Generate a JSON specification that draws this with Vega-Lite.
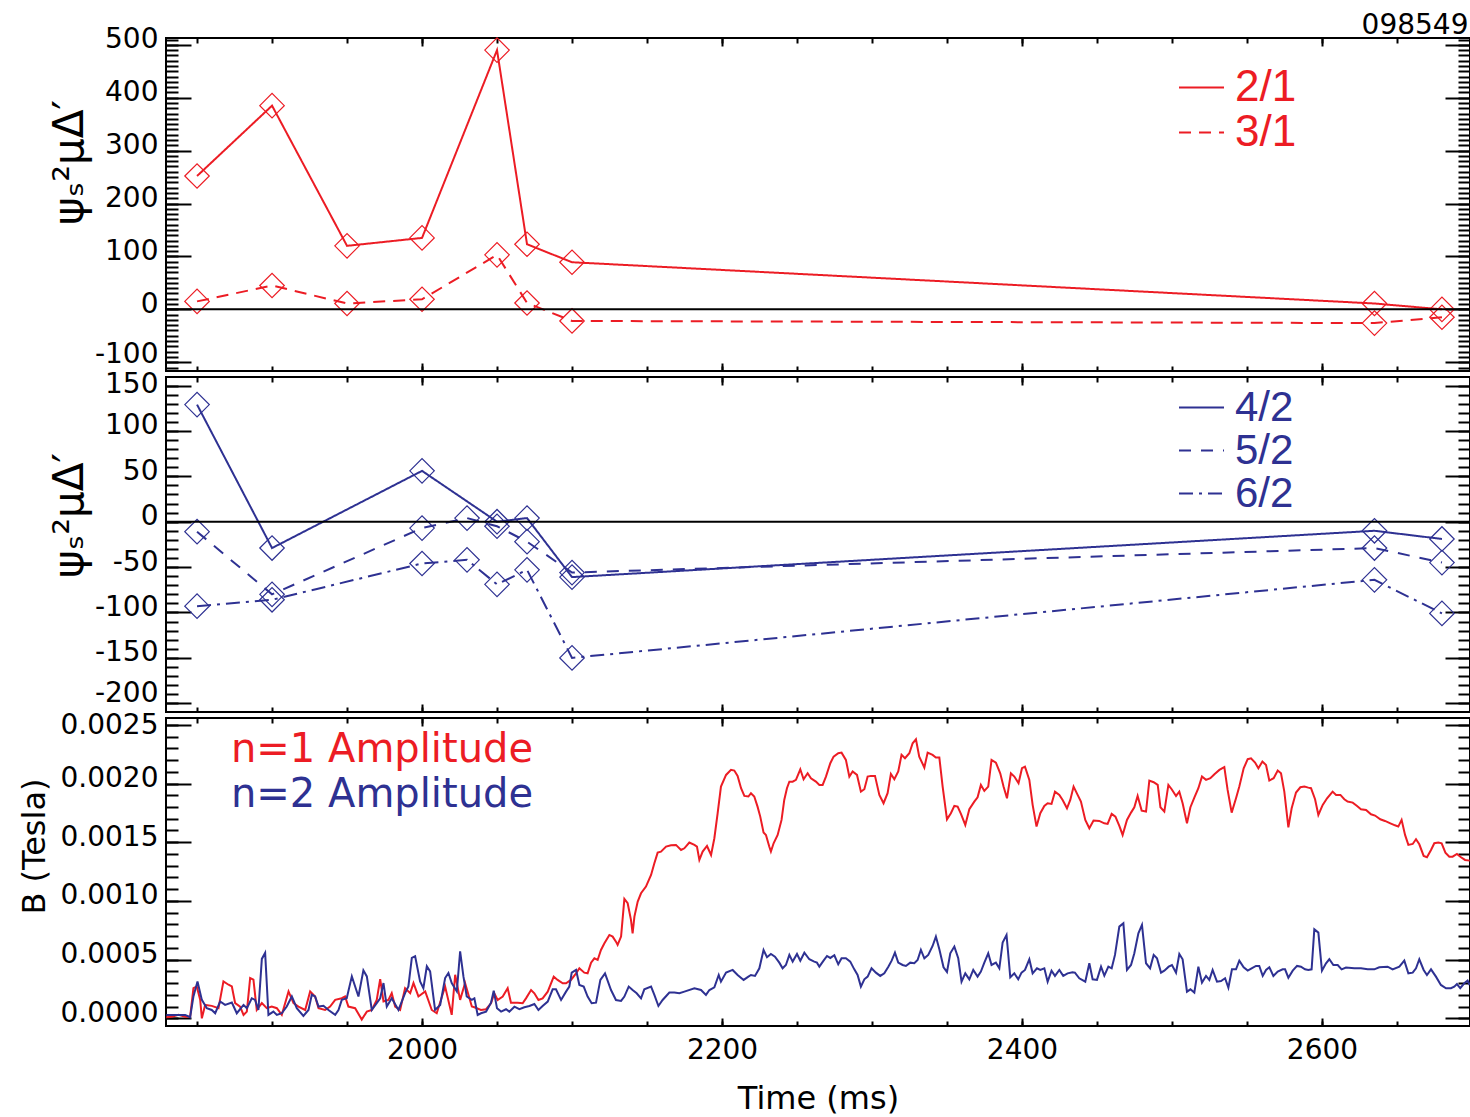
{
"$schema": "https://vega.github.io/schema/vega-lite/v6.json",
"background": "white",
"padding": {"left": 17, "top": 10, "right": 0, "bottom": 0},
"config": {
 "view": {"stroke": "#000", "strokeWidth": 2},
 "axis": {"labelFont": "DejaVu Sans", "labelFontSize": 28, "labelColor": "#000", "tickColor": "#000", "tickWidth": 2, "domain": false, "grid": false, "titleFont": "DejaVu Sans", "titleColor": "#000", "titleFontWeight": "normal", "labelOverlap": false, "labelFlush": false, "labelBound": false, "minExtent": 0},
 "legend": {"orient": "none", "padding": 0, "title": null}
},
"datasets": {
 "top": [
  {"t":1850,"mode":"2/1","v":252},{"t":1900,"mode":"2/1","v":385},{"t":1950,"mode":"2/1","v":120},{"t":2000,"mode":"2/1","v":135},{"t":2050,"mode":"2/1","v":490},{"t":2070,"mode":"2/1","v":123},{"t":2100,"mode":"2/1","v":89},{"t":2635,"mode":"2/1","v":11},{"t":2680,"mode":"2/1","v":0},
  {"t":1850,"mode":"3/1","v":15},{"t":1900,"mode":"3/1","v":45},{"t":1950,"mode":"3/1","v":11},{"t":2000,"mode":"3/1","v":19},{"t":2050,"mode":"3/1","v":103},{"t":2070,"mode":"3/1","v":12},{"t":2100,"mode":"3/1","v":-22},{"t":2635,"mode":"3/1","v":-26},{"t":2680,"mode":"3/1","v":-15}
 ],
 "mid": [
  {"t":1850,"mode":"4/2","v":129},{"t":1900,"mode":"4/2","v":-29},{"t":2000,"mode":"4/2","v":56},{"t":2050,"mode":"4/2","v":0},{"t":2070,"mode":"4/2","v":4},{"t":2100,"mode":"4/2","v":-61},{"t":2635,"mode":"4/2","v":-10},{"t":2680,"mode":"4/2","v":-19},
  {"t":1850,"mode":"5/2","v":-11},{"t":1900,"mode":"5/2","v":-80},{"t":2000,"mode":"5/2","v":-7},{"t":2030,"mode":"5/2","v":4},{"t":2050,"mode":"5/2","v":-5},{"t":2070,"mode":"5/2","v":-22},{"t":2100,"mode":"5/2","v":-56},{"t":2635,"mode":"5/2","v":-29},{"t":2680,"mode":"5/2","v":-45},
  {"t":1850,"mode":"6/2","v":-93},{"t":1900,"mode":"6/2","v":-86},{"t":2000,"mode":"6/2","v":-46},{"t":2030,"mode":"6/2","v":-42},{"t":2050,"mode":"6/2","v":-69},{"t":2070,"mode":"6/2","v":-53},{"t":2100,"mode":"6/2","v":-150},{"t":2635,"mode":"6/2","v":-64},{"t":2680,"mode":"6/2","v":-101}
 ],
 "zero": [{"y": 0}],
 "n1": [
  {"t":1829.5,"B":0.000009},{"t":1833.2,"B":0.000014},{"t":1837.6,"B":0.000029},{"t":1842.1,"B":0.000014},{"t":1845.4,"B":0.000014},{"t":1847.6,"B":0.000257},{"t":1849.8,"B":0.000271},{"t":1852.1,"B":0.000157},{"t":1853.2,"B":0.0},{"t":1855.4,"B":0.000114},{"t":1859.8,"B":0.000106},{"t":1864.3,"B":0.000086},{"t":1867.6,"B":0.000314},{"t":1871.0,"B":0.000286},{"t":1873.2,"B":0.000271},{"t":1875.4,"B":0.000129},{"t":1878.7,"B":0.0001},{"t":1881.0,"B":0.000029},{"t":1883.2,"B":0.000057},{"t":1885.4,"B":0.000343},{"t":1887.6,"B":0.000329},{"t":1889.8,"B":0.000071},{"t":1893.2,"B":0.000129},{"t":1896.5,"B":0.000086},{"t":1899.8,"B":0.0001},{"t":1903.2,"B":0.000086},{"t":1906.5,"B":0.000029},{"t":1911.0,"B":0.000229},{"t":1914.3,"B":0.000129},{"t":1917.6,"B":0.0001},{"t":1922.1,"B":0.000071},{"t":1925.4,"B":0.000229},{"t":1928.7,"B":0.000186},{"t":1931.0,"B":0.000086},{"t":1935.4,"B":0.000071},{"t":1938.7,"B":0.0001},{"t":1942.1,"B":0.000157},{"t":1946.5,"B":0.000171},{"t":1948.7,"B":0.000186},{"t":1950.9,"B":0.0001},{"t":1955.4,"B":0.000086},{"t":1959.8,"B":-0.00001},{"t":1963.2,"B":0.000057},{"t":1966.5,"B":0.000071},{"t":1969.8,"B":0.000157},{"t":1972.1,"B":0.000334},{"t":1974.3,"B":0.000143},{"t":1977.6,"B":0.000157},{"t":1979.8,"B":0.000214},{"t":1982.1,"B":0.0001},{"t":1985.4,"B":0.000071},{"t":1988.7,"B":0.000257},{"t":1992.1,"B":0.000214},{"t":1994.3,"B":0.0003},{"t":1997.6,"B":0.000186},{"t":2002.1,"B":0.000229},{"t":2006.5,"B":0.000071},{"t":2009.8,"B":0.000043},{"t":2015.4,"B":0.000271},{"t":2019.8,"B":0.000029},{"t":2022.1,"B":0.000371},{"t":2025.4,"B":0.000157},{"t":2028.7,"B":0.0003},{"t":2033.2,"B":0.0001},
  {"t":2034.9,"B":0.000094},{"t":2039.3,"B":0.000071},{"t":2042.7,"B":0.000077},{"t":2046.0,"B":0.000128},{"t":2048.2,"B":0.000213},{"t":2050.4,"B":0.000156},{"t":2053.8,"B":0.000185},{"t":2057.1,"B":0.000256},{"t":2059.3,"B":0.000133},{"t":2063.8,"B":0.000133},{"t":2067.1,"B":0.000128},{"t":2069.3,"B":0.00017},{"t":2072.7,"B":0.000241},{"t":2074.9,"B":0.000213},{"t":2077.6,"B":0.000156},{"t":2080.4,"B":0.00017},{"t":2083.8,"B":0.000227},{"t":2087.8,"B":0.000355},{"t":2090.4,"B":0.000327},{"t":2093.8,"B":0.000298},{"t":2096.0,"B":0.000298},{"t":2099.3,"B":0.000327},{"t":2102.7,"B":0.000383},{"t":2104.9,"B":0.000426},{"t":2108.2,"B":0.000389},{"t":2110.4,"B":0.000383},{"t":2112.7,"B":0.000474},{"t":2114.9,"B":0.000511},{"t":2117.1,"B":0.000497},{"t":2119.3,"B":0.000582},{"t":2121.6,"B":0.000639},{"t":2124.9,"B":0.00071},{"t":2127.1,"B":0.000696},{"t":2129.3,"B":0.000653},{"t":2130.4,"B":0.000625},{"t":2132.7,"B":0.000696},{"t":2134.9,"B":0.001017},{"t":2137.1,"B":0.00098},{"t":2139.3,"B":0.000838},{"t":2140.4,"B":0.000724},{"t":2141.6,"B":0.000866},{"t":2143.8,"B":0.000994},{"t":2146.0,"B":0.001065},{"t":2149.3,"B":0.001122},{"t":2152.7,"B":0.001221},{"t":2154.9,"B":0.001321},{"t":2157.1,"B":0.001411},{"t":2159.3,"B":0.00142},{"t":2162.7,"B":0.001463},{"t":2166.0,"B":0.001474},{"t":2169.3,"B":0.001477},{"t":2172.7,"B":0.001434},{"t":2174.9,"B":0.001448},{"t":2178.2,"B":0.001497},{"t":2181.6,"B":0.001477},{"t":2183.3,"B":0.001463},{"t":2184.9,"B":0.001349},{"t":2187.1,"B":0.00142},{"t":2190.0,"B":0.001468},{"t":2192.7,"B":0.001392},{"t":2194.9,"B":0.001534},{"t":2197.1,"B":0.001747},{"t":2199.3,"B":0.001974},{"t":2202.7,"B":0.002073},{"t":2206.0,"B":0.002116},{"t":2208.2,"B":0.00211},{"t":2210.4,"B":0.002065},{"t":2212.7,"B":0.00196},{"t":2214.9,"B":0.001894},{"t":2217.6,"B":0.001889},
  {"t":2219.3,"B":0.001917},{"t":2221.5,"B":0.001889},{"t":2223.7,"B":0.001803},{"t":2225.5,"B":0.001718},{"t":2227.7,"B":0.001582},{"t":2229.3,"B":0.001562},{"t":2231.5,"B":0.001463},{"t":2232.6,"B":0.00142},{"t":2234.4,"B":0.001491},{"t":2237.1,"B":0.001562},{"t":2239.7,"B":0.00169},{"t":2241.5,"B":0.00186},{"t":2243.3,"B":0.00196},{"t":2244.9,"B":0.002016},{"t":2247.1,"B":0.002016},{"t":2249.3,"B":0.002031},{"t":2252.2,"B":0.002121},{"t":2254.4,"B":0.002036},{"t":2257.1,"B":0.002087},{"t":2259.3,"B":0.002045},{"t":2262.6,"B":0.002016},{"t":2264.9,"B":0.001988},{"t":2267.1,"B":0.001988},{"t":2269.3,"B":0.002059},{"t":2272.2,"B":0.002173},{"t":2274.4,"B":0.002229},{"t":2277.5,"B":0.002258},{"t":2279.7,"B":0.002263},{"t":2282.6,"B":0.002201},{"t":2284.9,"B":0.002059},{"t":2287.1,"B":0.002102},{"t":2290.0,"B":0.002073},{"t":2292.6,"B":0.001931},{"t":2294.9,"B":0.001951},{"t":2297.1,"B":0.002059},{"t":2299.3,"B":0.002065},{"t":2302.0,"B":0.002065},{"t":2304.9,"B":0.001903},{"t":2307.7,"B":0.001832},{"t":2310.4,"B":0.001917},{"t":2312.6,"B":0.002082},{"t":2314.9,"B":0.002036},{"t":2317.5,"B":0.002102},{"t":2319.7,"B":0.002244},{"t":2322.0,"B":0.002215},{"t":2324.9,"B":0.002258},{"t":2327.1,"B":0.002343},{"t":2329.3,"B":0.002377},{"t":2331.5,"B":0.002229},{"t":2334.9,"B":0.002136},{"t":2337.1,"B":0.002263},{"t":2340.4,"B":0.002244},{"t":2342.6,"B":0.002221},{"t":2344.9,"B":0.002221},{"t":2347.1,"B":0.001974},{"t":2350.0,"B":0.001695},{"t":2352.6,"B":0.001747},{"t":2354.9,"B":0.001809},{"t":2357.1,"B":0.001803},{"t":2359.3,"B":0.001741},{"t":2362.2,"B":0.001647},{"t":2364.9,"B":0.001781},{"t":2368.2,"B":0.001846},{"t":2370.4,"B":0.001883},{"t":2372.6,"B":0.001988},{"t":2374.9,"B":0.001937},{"t":2377.5,"B":0.001974},{"t":2379.7,"B":0.002201},{"t":2382.6,"B":0.002178},{"t":2385.5,"B":0.002087},{"t":2387.7,"B":0.001974},{"t":2390.0,"B":0.001874},{"t":2392.6,"B":0.002087},{"t":2394.9,"B":0.002059},{"t":2397.7,"B":0.002002},{"t":2400.0,"B":0.00213},{"t":2402.0,"B":0.002144},{"t":2404.9,"B":0.002031},{"t":2407.1,"B":0.001818},{"t":2409.7,"B":0.001633},{"t":2412.2,"B":0.001747},{"t":2414.9,"B":0.001809},{"t":2417.1,"B":0.001832},{"t":2419.7,"B":0.001826},{"t":2422.0,"B":0.001931},{"t":2424.9,"B":0.001903},{"t":2427.1,"B":0.00186},{"t":2430.0,"B":0.001789},{"t":2432.2,"B":0.00186},{"t":2434.4,"B":0.001974},{"t":2437.1,"B":0.001903},{"t":2439.3,"B":0.001846},{"t":2442.2,"B":0.00169},{"t":2444.9,"B":0.001619},{"t":2447.7,"B":0.001684},{"t":2451.5,"B":0.001681},
  {"t":2454.9,"B":0.001661},{"t":2457.1,"B":0.001656},{"t":2459.8,"B":0.001741},{"t":2462.3,"B":0.001718},{"t":2464.9,"B":0.001639},{"t":2467.1,"B":0.001562},{"t":2470.0,"B":0.00169},{"t":2472.7,"B":0.001752},{"t":2474.9,"B":0.001798},{"t":2477.1,"B":0.001894},{"t":2479.8,"B":0.001769},{"t":2482.7,"B":0.001761},{"t":2484.9,"B":0.002025},{"t":2487.8,"B":0.002011},{"t":2490.5,"B":0.001988},{"t":2492.3,"B":0.001798},{"t":2494.9,"B":0.001761},{"t":2497.6,"B":0.001988},{"t":2499.8,"B":0.001951},{"t":2502.7,"B":0.001894},{"t":2504.9,"B":0.001931},{"t":2507.1,"B":0.001832},{"t":2510.0,"B":0.001661},{"t":2512.3,"B":0.001798},{"t":2514.9,"B":0.00188},{"t":2517.6,"B":0.00196},{"t":2520.0,"B":0.002059},{"t":2522.7,"B":0.002031},{"t":2525.6,"B":0.002045},{"t":2528.3,"B":0.002079},{"t":2531.6,"B":0.002116},{"t":2534.9,"B":0.002139},{"t":2537.1,"B":0.001945},{"t":2539.8,"B":0.001752},{"t":2542.7,"B":0.001874},{"t":2544.9,"B":0.001974},{"t":2547.8,"B":0.00213},{"t":2550.5,"B":0.002207},{"t":2552.7,"B":0.002215},{"t":2555.4,"B":0.002178},{"t":2557.6,"B":0.00213},{"t":2560.3,"B":0.002187},{"t":2562.7,"B":0.002158},{"t":2564.9,"B":0.002025},{"t":2567.8,"B":0.002045},{"t":2570.5,"B":0.00211},{"t":2572.7,"B":0.002087},{"t":2574.9,"B":0.001931},{"t":2577.6,"B":0.001627},{"t":2579.8,"B":0.001789},{"t":2582.7,"B":0.001923},{"t":2585.6,"B":0.001968},{"t":2588.3,"B":0.001974},{"t":2590.9,"B":0.001965},{"t":2592.7,"B":0.00196},{"t":2595.4,"B":0.001866},{"t":2597.6,"B":0.001732},{"t":2600.5,"B":0.001818},{"t":2603.4,"B":0.001874},{"t":2607.1,"B":0.001931},{"t":2609.4,"B":0.001903},{"t":2612.3,"B":0.001903},{"t":2614.9,"B":0.001866},{"t":2617.1,"B":0.001846},{"t":2620.5,"B":0.001837},{"t":2623.4,"B":0.001809},{"t":2626.0,"B":0.001781},{"t":2629.4,"B":0.001775},{"t":2632.7,"B":0.001738},{"t":2635.4,"B":0.001727},{"t":2638.9,"B":0.001695},{"t":2642.0,"B":0.001681},{"t":2645.6,"B":0.001661},{"t":2648.7,"B":0.001644},{"t":2650.9,"B":0.001633},{"t":2653.1,"B":0.00169},{"t":2655.4,"B":0.001562},{"t":2657.6,"B":0.001477},{"t":2660.5,"B":0.001485},{"t":2662.7,"B":0.001525},{"t":2664.9,"B":0.001482},{"t":2667.8,"B":0.001383},{"t":2670.0,"B":0.001372},{"t":2672.7,"B":0.001434},{"t":2674.9,"B":0.001491},{"t":2677.6,"B":0.001497},{"t":2679.8,"B":0.001491},{"t":2682.3,"B":0.001411},{"t":2684.9,"B":0.001377},{"t":2687.1,"B":0.001377},{"t":2690.0,"B":0.0014},{"t":2692.7,"B":0.001372},{"t":2695.4,"B":0.001349},{"t":2698.5,"B":0.001343}
 ],
 "n2": [
  {"t":1829.5,"B":0.000029},{"t":1833.2,"B":0.000029},{"t":1837.6,"B":0.000029},{"t":1842.1,"B":0.000029},{"t":1845.4,"B":0.000009},{"t":1847.6,"B":0.000186},{"t":1850.3,"B":0.000314},{"t":1853.2,"B":0.000157},{"t":1856.5,"B":0.000086},{"t":1859.8,"B":0.000071},{"t":1862.1,"B":0.000043},{"t":1865.4,"B":0.000143},{"t":1868.7,"B":0.000114},{"t":1873.2,"B":0.000134},{"t":1876.5,"B":0.000043},{"t":1881.0,"B":0.000114},{"t":1883.2,"B":0.000086},{"t":1886.5,"B":0.000171},{"t":1888.7,"B":0.000157},{"t":1890.9,"B":0.000071},{"t":1893.2,"B":0.000506},{"t":1895.4,"B":0.000557},{"t":1897.6,"B":0.000029},{"t":1900.9,"B":0.000057},{"t":1903.2,"B":0.000029},{"t":1906.5,"B":0.000043},{"t":1909.8,"B":0.0001},{"t":1913.2,"B":0.000186},{"t":1916.5,"B":0.000086},{"t":1920.9,"B":0.00002},{"t":1924.3,"B":0.000071},{"t":1926.5,"B":0.0002},{"t":1928.7,"B":0.000186},{"t":1931.0,"B":0.0001},{"t":1934.3,"B":0.000106},{"t":1937.6,"B":0.000071},{"t":1942.1,"B":0.000029},{"t":1944.3,"B":0.000071},{"t":1946.5,"B":0.000157},{"t":1949.8,"B":0.000171},{"t":1953.2,"B":0.000357},{"t":1957.6,"B":0.000186},{"t":1960.9,"B":0.000409},{"t":1963.2,"B":0.000357},{"t":1966.5,"B":0.000071},{"t":1969.8,"B":0.000129},{"t":1972.1,"B":0.000171},{"t":1974.3,"B":0.0003},{"t":1976.5,"B":0.0001},{"t":1979.8,"B":0.000171},{"t":1984.3,"B":0.000071},{"t":1988.7,"B":0.000214},{"t":1990.9,"B":0.000271},{"t":1993.2,"B":0.000514},{"t":1995.4,"B":0.000529},{"t":1998.7,"B":0.000314},{"t":2000.9,"B":0.000257},{"t":2003.2,"B":0.000443},{"t":2005.4,"B":0.0004},{"t":2008.7,"B":0.000071},{"t":2012.1,"B":0.000114},{"t":2015.4,"B":0.000343},{"t":2017.6,"B":0.000386},{"t":2019.8,"B":0.0003},{"t":2023.2,"B":0.000229},{"t":2025.4,"B":0.000571},{"t":2027.6,"B":0.000357},{"t":2029.8,"B":0.000186},{"t":2033.2,"B":0.000157},
  {"t":2034.9,"B":0.00017},{"t":2037.1,"B":0.000028},{"t":2039.3,"B":0.000043},{"t":2042.7,"B":0.000057},{"t":2046.0,"B":0.000133},{"t":2047.8,"B":0.000236},{"t":2050.0,"B":0.000085},{"t":2052.7,"B":0.000057},{"t":2056.0,"B":0.000077},{"t":2058.2,"B":0.000057},{"t":2061.6,"B":0.000099},{"t":2064.9,"B":0.000077},{"t":2068.2,"B":0.000094},{"t":2071.6,"B":0.000105},{"t":2074.9,"B":0.000122},{"t":2077.6,"B":0.000071},{"t":2080.4,"B":0.000105},{"t":2083.8,"B":0.000142},{"t":2087.1,"B":0.000247},{"t":2089.3,"B":0.000247},{"t":2092.7,"B":0.000156},{"t":2096.0,"B":0.000227},{"t":2098.2,"B":0.00027},{"t":2099.8,"B":0.000389},{"t":2102.7,"B":0.000412},{"t":2104.9,"B":0.000284},{"t":2107.8,"B":0.00027},{"t":2110.4,"B":0.000185},{"t":2113.1,"B":0.000128},{"t":2116.0,"B":0.000133},{"t":2118.9,"B":0.000327},{"t":2122.0,"B":0.000383},{"t":2126.0,"B":0.000241},{"t":2129.3,"B":0.000156},{"t":2132.7,"B":0.000148},{"t":2134.9,"B":0.000185},{"t":2137.8,"B":0.00027},{"t":2140.4,"B":0.000241},{"t":2143.1,"B":0.000213},{"t":2146.0,"B":0.00017},{"t":2148.2,"B":0.000247},{"t":2152.7,"B":0.00027},{"t":2154.9,"B":0.000199},{"t":2157.6,"B":0.000105},{"t":2160.4,"B":0.000156},{"t":2164.9,"B":0.000219},{"t":2168.2,"B":0.000219},{"t":2171.6,"B":0.000213},{"t":2174.9,"B":0.000227},{"t":2181.6,"B":0.000256},{"t":2186.0,"B":0.000241},{"t":2189.3,"B":0.000199},{"t":2191.6,"B":0.000241},{"t":2194.9,"B":0.000264},{"t":2197.8,"B":0.000369},{"t":2199.3,"B":0.000312},{"t":2202.7,"B":0.000389},{"t":2207.1,"B":0.000412},{"t":2210.4,"B":0.000369},{"t":2214.4,"B":0.000327},{"t":2217.6,"B":0.000355},
  {"t":2219.3,"B":0.000369},{"t":2222.0,"B":0.000361},{"t":2224.9,"B":0.000426},{"t":2227.7,"B":0.000582},{"t":2230.0,"B":0.00052},{"t":2232.6,"B":0.000548},{"t":2235.3,"B":0.000525},{"t":2238.2,"B":0.000474},{"t":2240.4,"B":0.000426},{"t":2242.6,"B":0.000454},{"t":2244.9,"B":0.00054},{"t":2247.1,"B":0.000483},{"t":2250.0,"B":0.000548},{"t":2252.2,"B":0.000491},{"t":2254.9,"B":0.000559},{"t":2258.2,"B":0.000503},{"t":2261.5,"B":0.000483},{"t":2263.3,"B":0.000474},{"t":2264.9,"B":0.00044},{"t":2267.7,"B":0.000491},{"t":2270.0,"B":0.000531},{"t":2272.2,"B":0.000514},{"t":2274.9,"B":0.000537},{"t":2277.5,"B":0.00046},{"t":2279.7,"B":0.000511},{"t":2282.6,"B":0.000511},{"t":2285.5,"B":0.000483},{"t":2288.2,"B":0.000417},{"t":2290.4,"B":0.000369},{"t":2292.6,"B":0.00027},{"t":2294.9,"B":0.000332},{"t":2297.1,"B":0.000355},{"t":2299.7,"B":0.000426},{"t":2302.6,"B":0.000389},{"t":2305.5,"B":0.000361},{"t":2308.2,"B":0.000383},{"t":2310.9,"B":0.00044},{"t":2313.1,"B":0.000491},{"t":2315.3,"B":0.000559},{"t":2317.5,"B":0.000474},{"t":2320.4,"B":0.000454},{"t":2322.6,"B":0.000446},{"t":2325.5,"B":0.000474},{"t":2328.2,"B":0.000469},{"t":2330.4,"B":0.000497},{"t":2332.6,"B":0.000582},{"t":2334.9,"B":0.000511},{"t":2337.5,"B":0.00054},{"t":2340.4,"B":0.000616},{"t":2342.6,"B":0.000696},{"t":2344.9,"B":0.000588},{"t":2347.7,"B":0.000435},{"t":2350.0,"B":0.000395},{"t":2352.2,"B":0.000554},{"t":2354.9,"B":0.000611},{"t":2357.5,"B":0.000511},{"t":2359.7,"B":0.000312},{"t":2362.2,"B":0.000383},{"t":2364.9,"B":0.000332},{"t":2367.5,"B":0.000412},{"t":2370.4,"B":0.000355},{"t":2372.6,"B":0.000398},{"t":2374.9,"B":0.000474},{"t":2377.5,"B":0.000554},{"t":2379.7,"B":0.000454},{"t":2382.6,"B":0.000474},{"t":2384.9,"B":0.000426},{"t":2387.1,"B":0.000645},{"t":2389.7,"B":0.00071},{"t":2392.2,"B":0.000349},{"t":2394.9,"B":0.000383},{"t":2397.5,"B":0.000332},{"t":2399.7,"B":0.000389},{"t":2402.0,"B":0.000412},{"t":2404.9,"B":0.000503},{"t":2407.1,"B":0.000383},{"t":2410.0,"B":0.000426},{"t":2412.2,"B":0.000412},{"t":2414.9,"B":0.000426},{"t":2417.1,"B":0.000312},{"t":2419.7,"B":0.000406},{"t":2422.0,"B":0.000361},{"t":2424.9,"B":0.000412},{"t":2427.5,"B":0.000361},{"t":2430.4,"B":0.000383},{"t":2433.7,"B":0.000392},{"t":2435.3,"B":0.000389},{"t":2438.2,"B":0.000341},{"t":2442.2,"B":0.000312},{"t":2444.9,"B":0.000469},{"t":2447.1,"B":0.000332},{"t":2450.0,"B":0.000327},
  {"t":2452.7,"B":0.00044},{"t":2454.9,"B":0.000364},{"t":2457.6,"B":0.00044},{"t":2459.8,"B":0.000426},{"t":2462.0,"B":0.00054},{"t":2464.9,"B":0.000781},{"t":2467.6,"B":0.000809},{"t":2470.0,"B":0.000412},{"t":2472.7,"B":0.000454},{"t":2474.9,"B":0.000554},{"t":2477.6,"B":0.000724},{"t":2480.0,"B":0.000795},{"t":2482.7,"B":0.000469},{"t":2485.4,"B":0.000426},{"t":2487.8,"B":0.00054},{"t":2490.0,"B":0.000511},{"t":2492.7,"B":0.000389},{"t":2494.9,"B":0.000406},{"t":2497.8,"B":0.00044},{"t":2500.0,"B":0.000454},{"t":2502.7,"B":0.000389},{"t":2504.9,"B":0.000548},{"t":2507.1,"B":0.000503},{"t":2510.0,"B":0.000227},{"t":2512.3,"B":0.000247},{"t":2514.9,"B":0.000219},{"t":2517.6,"B":0.00044},{"t":2520.0,"B":0.000304},{"t":2522.7,"B":0.000361},{"t":2524.9,"B":0.000327},{"t":2527.1,"B":0.000412},{"t":2530.0,"B":0.000312},{"t":2532.7,"B":0.000318},{"t":2535.4,"B":0.000341},{"t":2537.6,"B":0.000261},{"t":2540.0,"B":0.000417},{"t":2542.7,"B":0.000417},{"t":2544.9,"B":0.000491},{"t":2547.8,"B":0.000435},{"t":2550.5,"B":0.000406},{"t":2553.1,"B":0.000426},{"t":2556.0,"B":0.000446},{"t":2558.2,"B":0.000446},{"t":2560.5,"B":0.000361},{"t":2562.7,"B":0.000412},{"t":2564.9,"B":0.000435},{"t":2567.6,"B":0.000361},{"t":2570.5,"B":0.000398},{"t":2573.8,"B":0.000417},{"t":2575.4,"B":0.000417},{"t":2577.6,"B":0.000346},{"t":2580.5,"B":0.000406},{"t":2583.4,"B":0.000446},{"t":2586.0,"B":0.00044},{"t":2588.7,"B":0.000417},{"t":2590.9,"B":0.000412},{"t":2593.1,"B":0.000417},{"t":2594.9,"B":0.000758},{"t":2597.6,"B":0.00073},{"t":2600.0,"B":0.000406},{"t":2602.7,"B":0.000469},{"t":2604.9,"B":0.000503},{"t":2607.6,"B":0.000454},{"t":2610.5,"B":0.000454},{"t":2613.1,"B":0.000417},{"t":2616.0,"B":0.000432},{"t":2621.6,"B":0.000426},{"t":2626.0,"B":0.000426},{"t":2630.5,"B":0.000417},{"t":2634.9,"B":0.000417},{"t":2638.2,"B":0.000435},{"t":2643.8,"B":0.00044},{"t":2647.1,"B":0.000417},{"t":2651.6,"B":0.00044},{"t":2654.9,"B":0.000491},{"t":2657.6,"B":0.000383},{"t":2660.5,"B":0.000389},{"t":2662.7,"B":0.000426},{"t":2664.9,"B":0.000503},{"t":2667.8,"B":0.000412},{"t":2670.0,"B":0.000369},{"t":2672.7,"B":0.000417},{"t":2676.0,"B":0.000355},{"t":2679.3,"B":0.000284},{"t":2682.7,"B":0.000256},{"t":2686.0,"B":0.000256},{"t":2688.2,"B":0.00027},{"t":2690.0,"B":0.000292},{"t":2692.2,"B":0.000256},{"t":2694.9,"B":0.000298},{"t":2697.1,"B":0.000321},{"t":2698.5,"B":0.000284}
 ]
},
"vconcat": [
 {
  "width": 1304, "height": 333,
  "layer": [
   {"data": {"name": "top"},
    "mark": {"type": "line", "color": "#ec1c24", "strokeWidth": 2, "clip": true},
    "encoding": {
     "x": {"field": "t", "type": "quantitative", "scale": {"domain": [1829.3, 2698.7], "nice": false, "zero": false},
       "axis": {"orient": "bottom", "values": [2000,2200,2400,2600], "labels": false, "tickSize": -8, "title": null}},
     "y": {"field": "v", "type": "quantitative", "scale": {"domain": [-116.6, 512.9], "nice": false, "zero": false},
       "axis": {"orient": "left", "values": [-100,0,100,200,300,400,500],
         "tickSize": -25, "labelPadding": 33, "labelOffset": {"condition": {"test": "datum.value === -100", "value": -8}, "value": -5}, "labelExpr": "'' + datum.value",
         "title": "ψₛ²μΔ′", "titleFontSize": 42, "titleX": -75, "titleY": 124, "titleAngle": -90, "titleBaseline": "bottom", "titleAlign": "center"}},
     "strokeDash": {"field": "mode", "type": "nominal", "scale": {"domain": ["2/1", "3/1"], "range": [[1, 0], [12, 8]]},
       "legend": {"orient": "none", "legendX": 1012, "legendY": 29, "title": null, "symbolType": "stroke", "symbolSize": 2025, "symbolStrokeWidth": 2, "symbolStrokeColor": "#ec1c24", "labelColor": "#ec1c24", "labelFont": "Liberation Sans", "labelFontSize": 44, "labelOffset": 10, "clipHeight": 41, "rowPadding": 0, "padding": 0}}
    }},
   {"data": {"name": "top"},
    "mark": {"type": "point", "shape": "diamond", "filled": false, "color": "#ec1c24", "size": 600, "strokeWidth": 1.2, "opacity": 1},
    "encoding": {
     "x": {"field": "t", "type": "quantitative", "scale": {"domain": [1829.3, 2698.7], "nice": false, "zero": false},
       "axis": {"orient": "top", "values": [2000,2200,2400,2600], "labels": false, "tickSize": -8,
         "title": "098549", "titleFont": "DejaVu Sans", "titleFontSize": 28, "titleX": 1302, "titleY": -5, "titleAngle": 0, "titleAlign": "right", "titleBaseline": "alphabetic"}},
     "y": {"field": "v", "type": "quantitative", "scale": {"domain": [-116.6, 512.9], "nice": false, "zero": false},
       "axis": {"orient": "right", "values": [-100,0,100,200,300,400,500], "labels": false, "tickSize": -25, "title": null}}
    }},
   {"data": {"name": "top"},
    "mark": {"type": "point", "opacity": 0},
    "encoding": {
     "x": {"field": "t", "type": "quantitative", "scale": {"domain": [1829.3, 2698.7], "nice": false, "zero": false},
       "axis": {"orient": "bottom", "values": [1850,1900,1950,2000,2050,2100,2150,2200,2250,2300,2350,2400,2450,2500,2550,2600,2650], "labels": false, "tickSize": -5, "title": null}},
     "y": {"field": "v", "type": "quantitative", "scale": {"domain": [-116.6, 512.9], "nice": false, "zero": false},
       "axis": {"orient": "left", "values": [-110,-100,-90,-80,-70,-60,-50,-40,-30,-20,-10,0,10,20,30,40,50,60,70,80,90,100,110,120,130,140,150,160,170,180,190,200,210,220,230,240,250,260,270,280,290,300,310,320,330,340,350,360,370,380,390,400,410,420,430,440,450,460,470,480,490,500,510], "labels": false, "tickSize": -12, "title": null}}
    }},
   {"data": {"name": "top"},
    "mark": {"type": "point", "opacity": 0},
    "encoding": {
     "x": {"field": "t", "type": "quantitative", "scale": {"domain": [1829.3, 2698.7], "nice": false, "zero": false},
       "axis": {"orient": "top", "values": [1850,1900,1950,2000,2050,2100,2150,2200,2250,2300,2350,2400,2450,2500,2550,2600,2650], "labels": false, "tickSize": -5, "title": null}},
     "y": {"field": "v", "type": "quantitative", "scale": {"domain": [-116.6, 512.9], "nice": false, "zero": false},
       "axis": {"orient": "right", "values": [-110,-100,-90,-80,-70,-60,-50,-40,-30,-20,-10,0,10,20,30,40,50,60,70,80,90,100,110,120,130,140,150,160,170,180,190,200,210,220,230,240,250,260,270,280,290,300,310,320,330,340,350,360,370,380,390,400,410,420,430,440,450,460,470,480,490,500,510], "labels": false, "tickSize": -12, "title": null}}
    }},
   {"data": {"name": "zero"},
    "mark": {"type": "rule", "color": "#000", "strokeWidth": 2},
    "encoding": {"y": {"field": "y", "type": "quantitative", "scale": {"domain": [-116.6, 512.9], "nice": false, "zero": false}, "axis": null}}}
  ],
  "resolve": {"axis": {"x": "independent", "y": "independent"}}
 },
 {
  "width": 1304, "height": 335,
  "layer": [
   {"data": {"name": "mid"},
    "mark": {"type": "line", "color": "#2e3192", "strokeWidth": 2, "clip": true},
    "encoding": {
     "x": {"field": "t", "type": "quantitative", "scale": {"domain": [1829.3, 2698.7], "nice": false, "zero": false},
       "axis": {"orient": "bottom", "values": [2000,2200,2400,2600], "labels": false, "tickSize": -8, "title": null}},
     "y": {"field": "v", "type": "quantitative", "scale": {"domain": [-209.6, 159.4], "nice": false, "zero": false},
       "axis": {"orient": "left", "values": [-200,-150,-100,-50,0,50,100,150],
         "tickSize": -25, "labelPadding": 33, "labelOffset": {"condition": [{"test": "datum.value === 150", "value": -1}, {"test": "datum.value === -200", "value": -10}], "value": -5}, "labelExpr": "'' + datum.value",
         "title": "ψₛ²μΔ′", "titleFontSize": 42, "titleX": -75, "titleY": 138, "titleAngle": -90, "titleBaseline": "bottom", "titleAlign": "center"}},
     "strokeDash": {"field": "mode", "type": "nominal", "scale": {"domain": ["4/2", "5/2", "6/2"], "range": [[1, 0], [12, 10], [14, 6, 3, 6]]},
       "legend": {"orient": "none", "legendX": 1012, "legendY": 12, "title": null, "symbolType": "stroke", "symbolSize": 2025, "symbolStrokeWidth": 2, "symbolStrokeColor": "#2e3192", "labelColor": "#2e3192", "labelFont": "Liberation Sans", "labelFontSize": 42, "labelOffset": 10, "clipHeight": 37, "rowPadding": 0, "padding": 0}}
    }},
   {"data": {"name": "mid"},
    "mark": {"type": "point", "shape": "diamond", "filled": false, "color": "#2e3192", "size": 600, "strokeWidth": 1.2, "opacity": 1},
    "encoding": {
     "x": {"field": "t", "type": "quantitative", "scale": {"domain": [1829.3, 2698.7], "nice": false, "zero": false},
       "axis": {"orient": "top", "values": [2000,2200,2400,2600], "labels": false, "tickSize": -8, "title": null}},
     "y": {"field": "v", "type": "quantitative", "scale": {"domain": [-209.6, 159.4], "nice": false, "zero": false},
       "axis": {"orient": "right", "values": [-200,-150,-100,-50,0,50,100,150], "labels": false, "tickSize": -25, "title": null}}
    }},
   {"data": {"name": "mid"},
    "mark": {"type": "point", "opacity": 0},
    "encoding": {
     "x": {"field": "t", "type": "quantitative", "scale": {"domain": [1829.3, 2698.7], "nice": false, "zero": false},
       "axis": {"orient": "bottom", "values": [1850,1900,1950,2000,2050,2100,2150,2200,2250,2300,2350,2400,2450,2500,2550,2600,2650], "labels": false, "tickSize": -5, "title": null}},
     "y": {"field": "v", "type": "quantitative", "scale": {"domain": [-209.6, 159.4], "nice": false, "zero": false},
       "axis": {"orient": "left", "values": [-200,-190,-180,-170,-160,-150,-140,-130,-120,-110,-100,-90,-80,-70,-60,-50,-40,-30,-20,-10,0,10,20,30,40,50,60,70,80,90,100,110,120,130,140,150], "labels": false, "tickSize": -12, "title": null}}
    }},
   {"data": {"name": "mid"},
    "mark": {"type": "point", "opacity": 0},
    "encoding": {
     "x": {"field": "t", "type": "quantitative", "scale": {"domain": [1829.3, 2698.7], "nice": false, "zero": false},
       "axis": {"orient": "top", "values": [1850,1900,1950,2000,2050,2100,2150,2200,2250,2300,2350,2400,2450,2500,2550,2600,2650], "labels": false, "tickSize": -5, "title": null}},
     "y": {"field": "v", "type": "quantitative", "scale": {"domain": [-209.6, 159.4], "nice": false, "zero": false},
       "axis": {"orient": "right", "values": [-200,-190,-180,-170,-160,-150,-140,-130,-120,-110,-100,-90,-80,-70,-60,-50,-40,-30,-20,-10,0,10,20,30,40,50,60,70,80,90,100,110,120,130,140,150], "labels": false, "tickSize": -12, "title": null}}
    }},
   {"data": {"name": "zero"},
    "mark": {"type": "rule", "color": "#000", "strokeWidth": 2},
    "encoding": {"y": {"field": "y", "type": "quantitative", "scale": {"domain": [-209.6, 159.4], "nice": false, "zero": false}, "axis": null}}}
  ],
  "resolve": {"axis": {"x": "independent", "y": "independent"}}
 },
 {
  "width": 1304, "height": 308,
  "layer": [
   {"data": {"name": "n1"},
    "mark": {"type": "line", "strokeWidth": 2, "clip": true},
    "encoding": {
     "x": {"field": "t", "type": "quantitative", "scale": {"domain": [1829.3, 2698.7], "nice": false, "zero": false},
       "axis": {"orient": "bottom", "values": [2000,2200,2400,2600], "tickSize": -8, "labelPadding": 18,
         "labelExpr": "'' + datum.value", "title": "Time (ms)", "titleFontSize": 32, "titlePadding": 19}},
     "y": {"field": "B", "type": "quantitative", "scale": {"domain": [-0.0000656, 0.002558], "nice": false, "zero": false},
       "axis": {"orient": "left", "values": [0,0.0005,0.001,0.0015,0.002,0.0025],
         "tickSize": -25, "labelPadding": 33, "labelOffset": {"condition": {"test": "datum.value > 0.0024", "value": 1}, "value": -5}, "labelExpr": "format(datum.value, '.4f')",
         "title": "B (Tesla)", "titleFontSize": 32, "titleX": -115, "titleY": 128, "titleAngle": -90, "titleBaseline": "bottom", "titleAlign": "center"}},
     "color": {"datum": "n=1 Amplitude", "type": "nominal", "scale": {"domain": ["n=1 Amplitude", "n=2 Amplitude"], "range": ["#ec1c24", "#2e3192"]},
       "legend": {"orient": "none", "legendX": 25, "legendY": 12, "title": null, "symbolOpacity": 0, "symbolSize": 1, "labelFont": "DejaVu Sans", "labelFontSize": 40, "labelLimit": 0, "labelOffset": 0, "rowPadding": 5, "padding": 0,
         "encode": {"labels": {"update": {"fill": {"signal": "datum.value === 'n=1 Amplitude' ? '#ec1c24' : '#2e3192'"}}}}}}
    }},
   {"data": {"name": "n2"},
    "mark": {"type": "line", "strokeWidth": 2, "clip": true},
    "encoding": {
     "x": {"field": "t", "type": "quantitative", "scale": {"domain": [1829.3, 2698.7], "nice": false, "zero": false},
       "axis": {"orient": "top", "values": [2000,2200,2400,2600], "labels": false, "tickSize": -8, "title": null}},
     "y": {"field": "B", "type": "quantitative", "scale": {"domain": [-0.0000656, 0.002558], "nice": false, "zero": false},
       "axis": {"orient": "right", "values": [0,0.0005,0.001,0.0015,0.002,0.0025], "labels": false, "tickSize": -25, "title": null}},
     "color": {"datum": "n=2 Amplitude", "type": "nominal"}
    }},
   {"data": {"name": "n1"},
    "mark": {"type": "point", "opacity": 0},
    "encoding": {
     "x": {"field": "t", "type": "quantitative", "scale": {"domain": [1829.3, 2698.7], "nice": false, "zero": false},
       "axis": {"orient": "bottom", "values": [1850,1900,1950,2000,2050,2100,2150,2200,2250,2300,2350,2400,2450,2500,2550,2600,2650], "labels": false, "tickSize": -5, "title": null}},
     "y": {"field": "B", "type": "quantitative", "scale": {"domain": [-0.0000656, 0.002558], "nice": false, "zero": false},
       "axis": {"orient": "left", "values": [0,0.0001,0.0002,0.0003,0.0004,0.0005,0.0006,0.0007,0.0008,0.0009,0.001,0.0011,0.0012,0.0013,0.0014,0.0015,0.0016,0.0017,0.0018,0.0019,0.002,0.0021,0.0022,0.0023,0.0024,0.0025], "labels": false, "tickSize": -12, "title": null}}
    }},
   {"data": {"name": "n1"},
    "mark": {"type": "point", "opacity": 0},
    "encoding": {
     "x": {"field": "t", "type": "quantitative", "scale": {"domain": [1829.3, 2698.7], "nice": false, "zero": false},
       "axis": {"orient": "top", "values": [1850,1900,1950,2000,2050,2100,2150,2200,2250,2300,2350,2400,2450,2500,2550,2600,2650], "labels": false, "tickSize": -5, "title": null}},
     "y": {"field": "B", "type": "quantitative", "scale": {"domain": [-0.0000656, 0.002558], "nice": false, "zero": false},
       "axis": {"orient": "right", "values": [0,0.0001,0.0002,0.0003,0.0004,0.0005,0.0006,0.0007,0.0008,0.0009,0.001,0.0011,0.0012,0.0013,0.0014,0.0015,0.0016,0.0017,0.0018,0.0019,0.002,0.0021,0.0022,0.0023,0.0024,0.0025], "labels": false, "tickSize": -12, "title": null}}
    }}
  ],
  "resolve": {"axis": {"x": "independent", "y": "independent"}}
 }
],
"spacing": 6,
"bounds": "flush",
"resolve": {"scale": {"x": "independent", "y": "independent", "color": "independent", "strokeDash": "independent"}, "axis": {"x": "independent", "y": "independent"}, "legend": {"color": "independent", "strokeDash": "independent"}}
}
